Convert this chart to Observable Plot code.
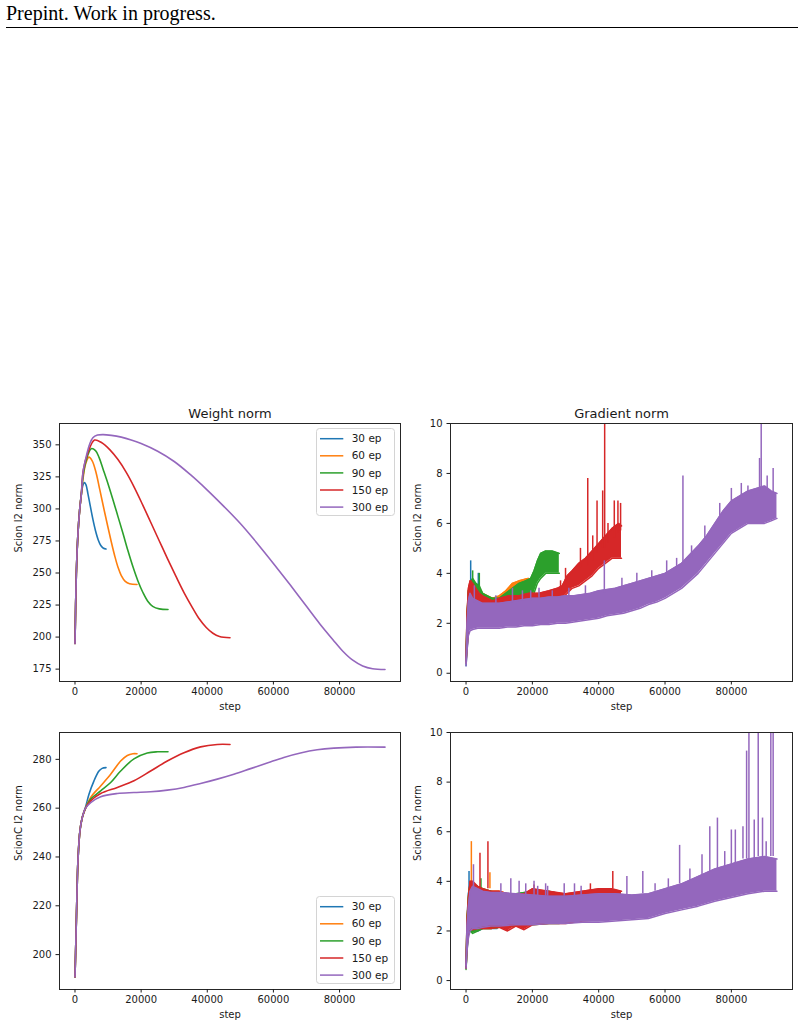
<!DOCTYPE html>
<html>
<head>
<meta charset="utf-8">
<script src="https://cdn.jsdelivr.net/npm/d3@7"></script>
<script src="https://cdn.jsdelivr.net/npm/@observablehq/plot@0.6"></script>
<style>
  html, body { margin: 0; padding: 0; background: #fff; }
  body { width: 804px; height: 1031px; position: relative; overflow: hidden; }
  #header { position: absolute; left: 6px; top: 1px; font-family: "Liberation Serif", "Times New Roman", serif; font-size: 20px; line-height: 24px; color: #000; white-space: nowrap; }
  #rule { position: absolute; left: 6px; top: 26.5px; width: 792px; height: 0; border-top: 1.3px solid #000; }
  .panel { position: absolute; }
  .panel svg { overflow: visible; }
</style>
</head>
<body>
<div id="header">Prepint. Work in progress.</div>
<div id="rule"></div>
<script>
// ---------------- DATA ----------------
const runs = ["30 ep", "60 ep", "90 ep", "150 ep", "300 ep"];
const xTicks = [0, 20000, 40000, 60000, 80000];
const yTicksWeight = [175, 200, 225, 250, 275, 300, 325, 350];
const yTicksWeightC = [200, 220, 240, 260, 280];
const yTicksGrad = [0, 2, 4, 6, 8, 10];

// Weight norm (Scion) : [step, l2 norm]
const weight30 = [[0,195],[400,249],[900,281],[1400,299],[1900,311],[2400,318.5],[2800,320.5],[3300,319],[3900,312],[4600,302.5],[5400,292],[6200,283],[7000,276],[7800,271.5],[8600,269.3],[9375,268.7]];
const weight60 = [[0,195],[400,249],[900,281],[1400,299],[1900,311],[2500,325],[3200,335],[4200,340.4],[5200,337.5],[6300,329],[7500,315],[8700,300.5],[9900,286.5],[11000,274],[12000,263.5],[13000,254.5],[14000,248],[15200,243.5],[16500,241.6],[18750,241]];
const weight90 = [[0,195],[400,249],[900,281],[1400,299],[1900,311],[2500,327],[3400,338],[4900,347],[6200,345.5],[7300,340],[8500,331],[10000,319.5],[11500,307],[13000,294],[14500,281],[16000,267.5],[17500,255],[19000,244],[20500,235],[22000,228],[23500,224],[25500,222],[28125,221.5]];
const weight150 = [[0,195],[400,249],[900,281],[1400,299],[1900,311],[2500,330],[3900,343.8],[5900,353.7],[8000,351.8],[10500,346.3],[13000,338.5],[15500,328.5],[18000,316.5],[20500,303],[23000,289],[25500,275],[28000,261],[30500,247.5],[33000,234.5],[35500,223],[37500,214.5],[39700,207.5],[41700,203],[43700,200.5],[46875,199.5]];
const weight300 = [[0,195],[400,249],[900,281],[1400,299],[1900,311],[2500,330],[3500,342],[4400,350.3],[5400,355.5],[6800,357.6],[8500,358],[11000,357.4],[14000,356],[17000,353.8],[20000,351],[25000,345],[30000,337],[35000,326.5],[40000,314.7],[45000,302],[50000,288.6],[55000,273.5],[60000,257.5],[65000,241],[70000,224],[74000,210.5],[78000,198],[81000,189],[84000,182],[87000,177.5],[90000,175.3],[93750,174.7]];

// Weight norm (ScionC) : [step, l2 norm]
const weightC30 = [[0,190.8],[300,207.4],[600,225],[900,238.6],[1500,250.8],[2200,256.2],[3200,260.5],[4230,265.7],[5740,271.2],[7250,275.2],[8200,276.3],[9375,276.6]];
const weightC60 = [[0,190.8],[300,207.4],[600,225],[900,238.6],[1500,250.8],[2200,256.2],[3200,260],[4740,264.4],[7760,269.1],[10780,273.9],[13800,279.3],[15820,281.6],[17500,282.3],[18750,282.3]];
const weightC90 = [[0,190.8],[300,207.4],[600,225],[900,238.6],[1500,250.8],[2200,256.2],[3200,260],[4740,263.7],[7760,267.1],[10780,270.5],[13800,275.2],[17830,280.2],[21860,282.6],[25000,283.1],[28125,283.1]];
const weightC150 = [[0,190.8],[300,207.4],[600,225],[900,238.6],[1500,250.8],[2200,256.2],[3200,260],[4740,263],[7760,266],[12800,268.5],[17830,271.2],[22870,275.2],[27910,279.3],[32950,282.7],[37980,285.1],[43020,286.1],[46875,286.1]];
const weightC300 = [[0,190.8],[300,207.4],[600,225],[900,238.6],[1500,250.8],[2200,256.2],[3200,260],[4740,262.3],[7760,264.7],[12800,266],[17830,266.4],[22870,266.7],[27910,267.4],[32950,268.5],[37980,270.1],[43020,271.9],[48050,273.9],[53090,276.2],[58130,278.5],[63160,280.8],[68200,282.6],[73240,283.9],[78270,284.6],[85000,285],[93750,285]];

// Gradient norm (Scion) : [step, low, high] of the noisy band
const grad30 = [[0,0.3,0.4],[300,0.9,2.2],[700,1.7,3.2],[1200,2.3,3.6],[2000,2.6,3.6],[3000,2.7,3.5],[4000,2.7,3.4],[5000,2.6,3.2],[6000,2.6,3.1],[7500,2.6,3.0],[9375,2.6,3.0]];
const grad60 = [[0,0.4,0.5],[300,1.0,2.3],[700,1.8,3.3],[1200,2.3,3.5],[2000,2.6,3.6],[3000,2.7,3.5],[4000,2.7,3.4],[5000,2.6,3.2],[6500,2.6,3.1],[8000,2.6,3.0],[10000,2.6,3.1],[12000,2.7,3.3],[14000,2.8,3.6],[16000,2.9,3.7],[18750,3.0,3.8]];
const grad90 = [[0,0.5,0.6],[300,1.0,2.3],[700,1.8,3.3],[1200,2.3,3.6],[2000,2.6,3.8],[3000,2.7,3.6],[4000,2.7,3.5],[5000,2.6,3.2],[6500,2.6,3.1],[8000,2.5,3.0],[10000,2.6,3.0],[12000,2.7,3.2],[14000,2.8,3.4],[16000,2.9,3.6],[18000,3.0,3.7],[19500,3.0,3.8],[20500,3.2,4.1],[21500,3.6,4.5],[22500,3.8,4.8],[24000,4.0,4.9],[26000,4.0,4.9],[28125,4.0,4.8]];
const grad150 = [[0,0.5,0.6],[300,1.0,2.4],[700,1.8,3.4],[1200,2.3,3.7],[2000,2.5,3.6],[3000,2.6,3.4],[4000,2.6,3.2],[5000,2.5,3.1],[6500,2.5,3.0],[8000,2.5,2.9],[10000,2.5,3.0],[13000,2.6,3.1],[16000,2.6,3.1],[19000,2.7,3.2],[22000,2.7,3.2],[25000,2.8,3.3],[27500,2.9,3.4],[29000,3.0,3.5],[30500,3.2,3.9],[32000,3.4,4.1],[34000,3.5,4.4],[36000,3.7,4.6],[38000,3.9,4.9],[40000,4.2,5.2],[42000,4.4,5.5],[44000,4.6,5.8],[46000,4.6,6.0],[46875,4.6,5.9]];
const grad300 = [[0,0.3,0.4],[300,0.9,2.0],[700,1.5,2.9],[1200,1.7,3.2],[2000,1.75,3.0],[3500,1.8,2.9],[5000,1.8,2.8],[7500,1.8,2.8],[10000,1.8,2.8],[12500,1.85,2.85],[15000,1.85,2.9],[17500,1.9,2.95],[20000,1.9,3.0],[22500,1.95,3.0],[25000,1.95,3.05],[27500,2.0,3.05],[30000,2.0,3.1],[32500,2.05,3.1],[35000,2.1,3.15],[37500,2.15,3.2],[40000,2.2,3.3],[42500,2.3,3.35],[45000,2.35,3.4],[47500,2.4,3.5],[50000,2.5,3.6],[52500,2.6,3.7],[55000,2.75,3.8],[57500,2.85,3.9],[60000,3.0,4.0],[62500,3.2,4.2],[65000,3.4,4.4],[67500,3.7,4.75],[70000,4.0,5.1],[72500,4.4,5.5],[75000,4.8,6.0],[77500,5.2,6.5],[80000,5.6,6.9],[82500,5.8,7.1],[85000,6.0,7.3],[87500,6.0,7.4],[90000,6.0,7.5],[92000,6.1,7.3],[93750,6.2,7.2]];
// spikes: [run index, step, from, to]
const gradSpikes = [[0,1400,3.4,4.5],[0,3700,3.2,4.0],[1,1200,3.3,3.6],[2,2000,3.6,4.1],[2,4000,3.4,4.0],
  [3,1500,3.4,3.7],[3,28500,3.3,3.7],[3,30000,3.7,4.2],[3,34500,4.2,5.0],[3,36700,4.3,7.8],[3,38200,4.5,5.5],[3,39500,4.8,6.9],[3,41200,5.0,7.3],[3,41800,5.0,10.5],[3,42800,5.2,6.0],[3,44700,5.4,6.9],[3,45800,5.6,6.9],[3,46600,5.7,6.8],
  [4,2500,2.8,3.5],[4,9000,2.7,3.1],[4,14000,2.8,3.4],[4,17000,2.9,3.3],[4,19500,2.9,3.3],[4,22000,3.0,3.4],[4,26000,3.0,3.3],[4,31000,3.0,3.4],[4,36000,3.1,3.5],[4,41700,3.2,4.5],[4,47000,3.4,3.8],[4,51500,3.6,4.0],[4,56000,3.8,4.1],[4,60500,4.0,4.5],[4,63500,4.2,4.6],[4,65400,4.4,7.9],[4,68000,4.6,5.1],[4,72000,5.4,5.9],[4,76500,6.2,6.8],[4,80000,6.9,7.4],[4,83000,7.1,7.6],[4,85000,7.2,7.5],[4,88500,7.3,8.6],[4,89000,7.4,10.5],[4,90800,7.4,7.9],[4,92600,7.2,8.2]];

// Gradient norm (ScionC) : [step, low, high]
const gradC30 = [[0,0.5,0.6],[300,1.3,2.5],[700,1.9,3.5],[1200,2.0,3.9],[2000,2.0,3.8],[3500,2.0,3.7],[5000,2.1,3.6],[7000,2.1,3.6],[9375,2.1,3.5]];
const gradC60 = [[0,0.5,0.6],[300,1.3,2.5],[700,1.9,3.4],[1200,2.0,3.9],[2000,2.0,3.9],[3500,2.05,3.8],[5000,2.1,3.7],[7500,2.1,3.6],[10000,2.15,3.6],[12500,2.2,3.5],[15000,2.2,3.5],[18750,2.25,3.5]];
const gradC90 = [[0,0.45,0.55],[300,1.2,2.4],[700,1.9,3.3],[1200,2.0,3.9],[2000,1.9,3.9],[3500,2.0,3.8],[5000,2.1,3.7],[7500,2.1,3.6],[10000,2.15,3.5],[15000,2.2,3.5],[20000,2.25,3.6],[25000,2.3,3.6],[28125,2.3,3.5]];
const gradC150 = [[0,0.5,0.6],[300,1.4,2.4],[700,2.0,3.3],[1200,2.05,4.0],[2000,2.05,4.0],[3500,2.1,3.8],[5000,2.1,3.7],[7500,2.1,3.6],[10000,2.15,3.6],[12500,2.0,3.5],[15000,2.2,3.5],[17500,2.05,3.5],[20000,2.25,3.7],[25000,2.3,3.6],[30000,2.3,3.5],[35000,2.4,3.6],[40000,2.45,3.7],[44000,2.5,3.7],[46875,2.55,3.6]];
const gradC300 = [[0,0.5,0.6],[300,1.2,2.2],[700,1.7,3.0],[1200,2.0,3.6],[2000,2.1,3.8],[3500,2.1,3.7],[5000,2.15,3.6],[7500,2.2,3.55],[10000,2.2,3.55],[15000,2.25,3.5],[20000,2.25,3.45],[25000,2.3,3.4],[30000,2.3,3.4],[35000,2.35,3.45],[40000,2.35,3.5],[45000,2.4,3.5],[50000,2.45,3.45],[55000,2.5,3.5],[60000,2.7,3.7],[65000,2.85,3.9],[70000,3.0,4.2],[75000,3.2,4.5],[80000,3.35,4.7],[85000,3.5,4.9],[90000,3.6,5.0],[93750,3.6,4.9]];
const gradCSpikes = [[0,900,3.4,4.4],[1,1600,3.8,5.6],[1,7200,3.7,4.35],[2,4500,3.6,4.1],
  [3,4200,3.7,5.13],[3,6600,3.7,5.6],[3,20500,3.5,3.85],[3,37500,3.6,3.9],[3,44250,3.7,4.4],
  [4,2240,3.7,4.67],[4,10500,3.4,3.9],[4,13500,3.5,4.1],[4,16000,3.4,4.0],[4,18000,3.4,3.9],[4,20500,3.4,4.0],[4,21600,3.4,3.8],[4,24000,3.4,3.9],[4,24600,3.4,3.8],[4,29600,3.4,3.9],[4,32700,3.4,3.9],[4,34700,3.4,3.8],[4,48500,3.4,4.2],[4,53300,3.5,4.4],[4,57000,3.6,3.9],[4,61000,3.7,4.1],[4,64400,3.9,5.45],[4,67500,4.0,4.5],[4,71150,4.2,5.07],[4,73500,4.4,6.2],[4,75800,4.5,6.55],[4,78000,4.6,5.2],[4,80000,4.7,6.07],[4,81200,4.7,6.07],[4,83500,4.9,6.2],[4,84600,4.9,9.25],[4,85300,4.9,10.5],[4,86900,4.9,6.47],[4,88100,5.0,10.5],[4,89400,5.0,6.55],[4,90500,5.0,5.6],[4,91900,5.0,10.5],[4,92600,5.0,10.5]];

// ---------------- STYLE ----------------
const palette = ["#1f77b4", "#ff7f0e", "#2ca02c", "#d62728", "#9467bd"];
const FONT = "DejaVu Sans, Verdana, sans-serif";
const xDomain = [-4687, 98437];
const fmt = d3.format("d");

function place(node, left, top) {
  const div = document.createElement("div");
  div.className = "panel";
  div.style.left = left + "px";
  div.style.top = top + "px";
  div.appendChild(node);
  document.body.appendChild(div);
}

function panel({left, top, width, height, ml, mr, mt, mb, yDomain, yTicks, ylabel, title, marks, dxLabel}) {
  const p = Plot.plot({
    width, height,
    marginLeft: ml, marginRight: mr, marginTop: mt, marginBottom: mb,
    style: {fontFamily: FONT, fontSize: "10px", color: "#1a1a1a", background: "transparent"},
    x: {domain: xDomain},
    y: {domain: yDomain},
    marks: [
      ...marks,
      Plot.frame({stroke: "#262626", strokeWidth: 1}),
      Plot.axisX({ticks: xTicks, tickFormat: fmt, tickSize: 3.5, tickPadding: 3, label: null, fontSize: 10}),
      Plot.axisY({ticks: yTicks, tickFormat: fmt, tickSize: 3.5, tickPadding: 4.5, label: null, fontSize: 10}),
      Plot.text(["step"], {text: d => d, frameAnchor: "bottom", dy: 28.5, fontSize: 10, fill: "#1a1a1a"}),
      Plot.text([ylabel], {text: d => d, frameAnchor: "left", dx: dxLabel, rotate: -90, fontSize: 10, fill: "#1a1a1a"}),
      ...(title ? [Plot.text([title], {text: d => d, frameAnchor: "top", dy: -14.5, fontSize: 13, fill: "#1a1a1a"})] : [])
    ]
  });
  place(p, left, top);
}

function weightMarks(series) {
  return series.map((s, i) => Plot.line(s, {x: d => d[0], y: d => d[1], stroke: palette[i], strokeWidth: 1.6, curve: "catmull-rom"}));
}

function gradMarks(series, spikes) {
  const out = [];
  series.forEach((s, i) => {
    out.push(Plot.areaY(s, {x: d => d[0], y1: d => d[1], y2: d => d[2], fill: palette[i], clip: true}));
    out.push(Plot.line(s, {x: d => d[0], y: d => d[1], stroke: palette[i], strokeWidth: 1.5, clip: true}));
    out.push(Plot.line(s, {x: d => d[0], y: d => d[2], stroke: palette[i], strokeWidth: 1.5, clip: true}));
    out.push(Plot.ruleX(spikes.filter(d => d[0] === i), {x: d => d[1], y1: d => d[2], y2: d => d[3], stroke: palette[i], strokeWidth: 1.5, clip: true}));
  });
  return out;
}

function legend(left, top) {
  const w = 79, h = 88;
  const svg = d3.create("svg").attr("width", w).attr("height", h);
  svg.append("rect").attr("x", 0.5).attr("y", 0.5).attr("width", w - 1).attr("height", h - 1)
    .attr("rx", 3).attr("fill", "rgba(255,255,255,0.8)").attr("stroke", "#d4d4d4");
  runs.forEach((lab, i) => {
    const cy = 10.7 + i * 17.1;
    svg.append("line").attr("x1", 4).attr("x2", 27.3).attr("y1", cy).attr("y2", cy)
      .attr("stroke", palette[i]).attr("stroke-width", 1.5);
    svg.append("text").attr("x", 35.7).attr("y", cy).attr("dy", "0.35em")
      .attr("font-family", FONT).attr("font-size", 10.5).attr("fill", "#1a1a1a").text(lab);
  });
  place(svg.node(), left, top);
}

// ---------------- PANELS ----------------
panel({left: 0, top: 400, width: 405, height: 320, ml: 59, mr: 5, mt: 23, mb: 39,
  yDomain: [165.35, 366.65], yTicks: yTicksWeight, ylabel: "Scion l2 norm", title: "Weight norm", dxLabel: -41,
  marks: weightMarks([weight30, weight60, weight90, weight150, weight300])});

panel({left: 405, top: 400, width: 399, height: 320, ml: 45, mr: 12, mt: 23, mb: 39,
  yDomain: [-0.33, 10], yTicks: yTicksGrad, ylabel: "Scion l2 norm", title: "Gradient norm", dxLabel: -33,
  marks: gradMarks([grad30, grad60, grad90, grad150, grad300], gradSpikes)});

panel({left: 0, top: 720, width: 405, height: 311, ml: 59, mr: 5, mt: 12, mb: 42,
  yDomain: [185.7, 291], yTicks: yTicksWeightC, ylabel: "ScionC l2 norm", title: null, dxLabel: -41,
  marks: weightMarks([weightC30, weightC60, weightC90, weightC150, weightC300])});

panel({left: 405, top: 720, width: 399, height: 311, ml: 45, mr: 12, mt: 12, mb: 42,
  yDomain: [-0.36, 10], yTicks: yTicksGrad, ylabel: "ScionC l2 norm", title: null, dxLabel: -33,
  marks: gradMarks([gradC30, gradC60, gradC90, gradC150, gradC300], gradCSpikes)});

legend(316, 428);
legend(316, 896);
</script>
</body>
</html>
